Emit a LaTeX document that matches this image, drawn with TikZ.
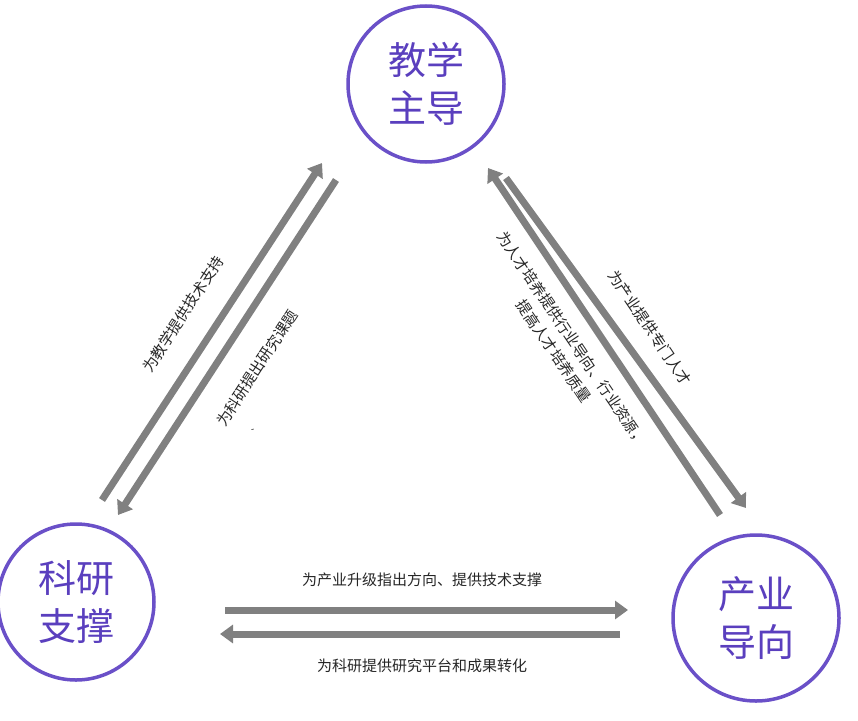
\documentclass[tikz,border=0pt]{standalone}
\usepackage{fontspec}
\newfontfamily\cjk{Noto Sans CJK SC}
\usetikzlibrary{arrows.meta}
\definecolor{pur}{HTML}{6A50C8}
\definecolor{ptxt}{HTML}{5A3FBE}
\definecolor{arr}{HTML}{808080}
\tikzset{
  hub/.style={circle,draw=pur,line width=3.5pt,minimum size=156pt,inner sep=0pt,align=center,text=ptxt,font=\cjk\fontsize{38}{48}\selectfont},
  flow/.style={draw=arr,line width=7pt,-{Triangle[length=13pt,width=18pt]}},
  lbl/.style={font=\cjk\fontsize{15}{22}\selectfont,text=black!85,align=center}
}
\begin{document}
\begin{tikzpicture}[x=1pt,y=-1pt]
\useasboundingbox (0,0) rectangle (858,720);
\node[hub] (t) at (426,84) {教学\\主导};
\node[hub] (l) at (76,602) {科研\\支撑};
\node[hub,minimum size=166pt] (r) at (756,618) {产业\\导向};
\coordinate (a1) at (102,500); \coordinate (a2) at (322,163);
\coordinate (b1) at (336,180); \coordinate (b2) at (118,515);
\coordinate (c1) at (720,515); \coordinate (c2) at (488,168);
\coordinate (d1) at (506,178); \coordinate (d2) at (746,508);
\coordinate (e1) at (225,610); \coordinate (e2) at (628,610);
\coordinate (f1) at (620,634); \coordinate (f2) at (220,634);
\draw[flow] (a1) -- (a2);
\draw[flow] (b1) -- (b2);
\draw[flow] (c1) -- (c2);
\draw[flow] (d1) -- (d2);
\draw[flow] (e1) -- (e2);
\draw[flow] (f1) -- (f2);
\node[lbl,rotate=57] (la) at (183,314) {为教学提供技术支持};
\node[lbl,rotate=57] (lb) at (257,368) {为科研提出研究课题};
\node[lbl,rotate=57,font=\cjk\fontsize{8}{8}\selectfont] (lc) at (254,428) {、};
\node[lbl,rotate=-56] (ra) at (650,328) {为产业提供专门人才};
\node[lbl,rotate=-56] (rb) at (563,345) {为人才培养提供行业导向、行业资源，\\提高人才培养质量};
\node[lbl] (ba) at (422,580) {为产业升级指出方向、提供技术支撑};
\node[lbl] (bb) at (422,666) {为科研提供研究平台和成果转化};
\end{tikzpicture}
\end{document}
